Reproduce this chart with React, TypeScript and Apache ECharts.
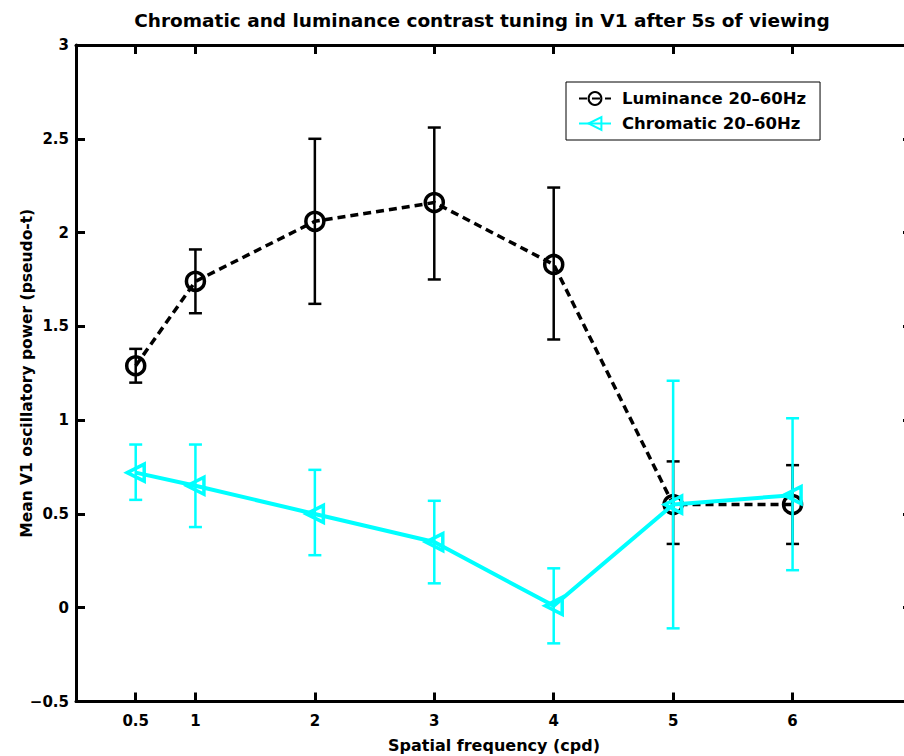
import React, { useEffect, useRef } from "react";
import * as echarts from "echarts";

const xTicks = [0.5, 1, 2, 3, 4, 5, 6];
const freqs = [0.5, 1, 2, 3, 4, 5, 6];
const lumMean = [1.29, 1.74, 2.06, 2.16, 1.83, 0.55, 0.55];
const lumLow = [1.2, 1.57, 1.62, 1.75, 1.43, 0.34, 0.34];
const lumHigh = [1.38, 1.91, 2.5, 2.56, 2.24, 0.78, 0.76];
const chrMean = [0.72, 0.65, 0.5, 0.35, 0.01, 0.55, 0.6];
const chrLow = [0.575, 0.43, 0.28, 0.13, -0.19, -0.11, 0.2];
const chrHigh = [0.87, 0.87, 0.735, 0.57, 0.21, 1.21, 1.01];

const FONT = "DejaVu Sans, Verdana, sans-serif";
const CYAN = "#00ffff";

function errRender(color: string, lw: number) {
  return (params: any, api: any) => {
    const x = api.value(0);
    const lo = api.value(1);
    const hi = api.value(2);
    const pHi = api.coord([x, hi]);
    const pLo = api.coord([x, lo]);
    const hw = 6.5;
    const style = { stroke: color, lineWidth: lw, fill: "none" };
    return {
      type: "group",
      children: [
        { type: "line", shape: { x1: pHi[0], y1: pHi[1], x2: pLo[0], y2: pLo[1] }, style },
        { type: "line", shape: { x1: pHi[0] - hw, y1: pHi[1], x2: pHi[0] + hw, y2: pHi[1] }, style },
        { type: "line", shape: { x1: pLo[0] - hw, y1: pLo[1], x2: pLo[0] + hw, y2: pLo[1] }, style },
      ],
    };
  };
}

export default function App() {
  const ref = useRef<HTMLDivElement>(null);
  useEffect(() => {
    if (!ref.current) return;
    const chart = echarts.init(ref.current, undefined, { renderer: "svg" });
    const axisLine = { show: true, onZero: false, lineStyle: { color: "#000", width: 3 } };
    const axisTick = { show: true, inside: true, length: 9, lineStyle: { color: "#000", width: 3 } };
    const option: any = {
      animation: false,
      backgroundColor: "#fff",
      textStyle: { fontFamily: FONT },
      title: {
        text: "Chromatic and luminance contrast tuning in V1 after 5s of viewing",
        left: 477,
        top: 6,
        textAlign: "center",
        textStyle: { fontFamily: FONT, fontSize: 18.5, fontWeight: "bold", color: "#000" },
      },
      grid: { left: 76, top: 45, right: 8, bottom: 54.5, containLabel: false, outerBoundsMode: "none" },
      legend: {
        left: 566,
        top: 82,
        orient: "vertical",
        backgroundColor: "#fff",
        borderColor: "#000",
        borderWidth: 1,
        borderRadius: 0,
        padding: [8, 14, 8, 12],
        itemWidth: 32,
        itemHeight: 16,
        itemGap: 8,
        textStyle: { fontFamily: FONT, fontSize: 16.5, fontWeight: "bold", color: "#000", padding: [0, 0, 0, 6] },
        data: ["Luminance 20\u201360Hz", "Chromatic 20\u201360Hz"],
      },
      xAxis: [
        {
          type: "value",
          min: 0,
          max: 7,
          position: "bottom",
          name: "Spatial frequency (cpd)",
          nameLocation: "middle",
          nameGap: 36,
          nameMoveOverlap: false,
          nameTextStyle: { fontFamily: FONT, fontSize: 16, fontWeight: "bold", color: "#000" },
          axisLine,
          axisTick: { ...axisTick, customValues: xTicks },
          axisLabel: {
            customValues: xTicks,
            margin: 12,
            fontFamily: FONT,
            fontSize: 15,
            fontWeight: "bold",
            color: "#000",
          },
          splitLine: { show: false },
        },
        {
          type: "value",
          min: 0,
          max: 7,
          position: "top",
          axisLine,
          axisTick: { ...axisTick, customValues: xTicks },
          axisLabel: { show: false },
          splitLine: { show: false },
        },
      ],
      yAxis: [
        {
          type: "value",
          min: -0.5,
          max: 3,
          interval: 0.5,
          position: "left",
          name: "Mean V1 oscillatory power (pseudo-t)",
          nameLocation: "middle",
          nameGap: 41,
          nameMoveOverlap: false,
          nameTextStyle: { fontFamily: FONT, fontSize: 15.5, fontWeight: "bold", color: "#000" },
          axisLine,
          axisTick,
          axisLabel: {
            margin: 7,
            fontFamily: FONT,
            fontSize: 15,
            fontWeight: "bold",
            color: "#000",
            formatter: (v: number) => String(v).replace("-", "\u2212"),
          },
          splitLine: { show: false },
        },
        {
          type: "value",
          min: -0.5,
          max: 3,
          interval: 0.5,
          position: "right",
          axisLine,
          axisTick,
          axisLabel: { show: false },
          splitLine: { show: false },
        },
      ],
      series: [
        {
          type: "custom",
          name: "lumErr",
          renderItem: errRender("#000", 2.5),
          data: freqs.map((f, i) => [f, lumLow[i], lumHigh[i]]),
          encode: { x: 0, y: [1, 2] },
          z: 1,
          silent: true,
        },
        {
          type: "line",
          name: "Luminance 20\u201360Hz",
          data: freqs.map((f, i) => [f, lumMean[i]]),
          symbol: "circle",
          symbolSize: 18,
          lineStyle: { color: "#000", width: 3.5, type: [8, 5] },
          itemStyle: { color: "rgba(255,255,255,0)", borderColor: "#000", borderWidth: 3.5 },
          z: 2,
        },
        {
          type: "custom",
          name: "chrErr",
          renderItem: errRender(CYAN, 2.5),
          data: freqs.map((f, i) => [f, chrLow[i], chrHigh[i]]),
          encode: { x: 0, y: [1, 2] },
          z: 3,
          silent: true,
        },
        {
          type: "line",
          name: "Chromatic 20\u201360Hz",
          data: freqs.map((f, i) => [f, chrMean[i]]),
          symbol: "triangle",
          symbolRotate: 90,
          symbolSize: 17,
          lineStyle: { color: CYAN, width: 4 },
          itemStyle: { color: "rgba(255,255,255,0)", borderColor: CYAN, borderWidth: 3.5 },
          z: 4,
        },
      ],
    };
    chart.setOption(option);
    return () => chart.dispose();
  }, []);
  return (
    <div style={{ position: "fixed", left: 0, top: 0, width: 904, height: 756, overflow: "hidden", background: "#fff" }}>
      <div ref={ref} style={{ width: 920, height: 756 }} />
    </div>
  );
}
